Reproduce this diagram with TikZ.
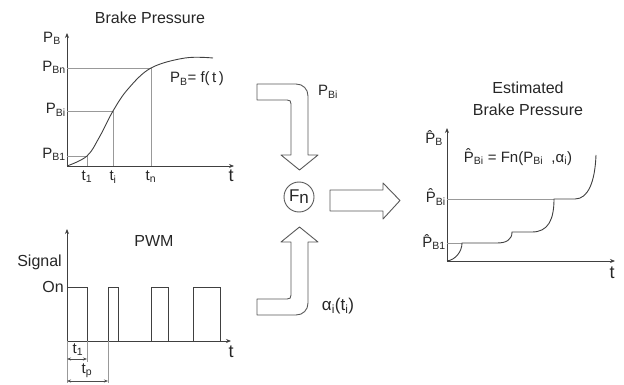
\documentclass[tikz,border=0pt]{standalone}
\usepackage{fontspec}
\setmainfont{Liberation Sans}
\usetikzlibrary{arrows.meta,calc,positioning}
\newcommand{\Psub}[1]{P\textsubscript{#1}}
\newcommand{\Phat}[1]{\^{P}\textsubscript{#1}}

\begin{document}
\begin{tikzpicture}[x=1pt, y=-1pt,
		axis/.style={draw=black!75, line width=0.8pt, -{Stealth[length=5pt,width=4pt]}},
		guide/.style={draw=black!40, line width=0.6pt},
		curve/.style={draw=black!75, line width=0.9pt},
		blockarrow/.style={draw=black!65, line width=0.9pt, fill=white, line join=round},
		dimarrow/.style={draw=black!70, line width=0.6pt, {Stealth[length=4pt,width=3pt]}-{Stealth[length=4pt,width=3pt]}},
		lbl/.style={font=\fontsize{15}{17}\selectfont, text=black!85, inner sep=0pt},
		ttl/.style={font=\fontsize{16}{22}\selectfont, text=black!85, inner sep=0pt, align=center}]
	\useasboundingbox (0,0) rectangle (624,385);

		% === Brake pressure graph ===
		\coordinate (o1) at (67,166);
		\coordinate (c1) at (87,156);
		\coordinate (ci) at (113,111);
		\coordinate (cn) at (151,68);
		\draw[axis] (o1) -- (234,166);
		\draw[axis] (o1) -- (67,33);
		\foreach \c in {c1, ci, cn} {
			\draw[guide] (o1 -| \c) -- (\c) -- (o1 |- \c);	% guide lines
		}
		\draw[curve] plot[smooth, tension=0.6] coordinates {(o1) (c1) (100,136) (ci) (128,89) (cn) (185,58) (213,58)};

		\node[ttl] (bptitle) at (150,18) {Brake Pressure};
		\node[lbl] (pb) at (52,38) {\Psub{B}};
		\node[lbl, anchor=east] (pbn) at (66,67) {\Psub{Bn}};
		\node[lbl, anchor=east] (pbi) at (66,110) {\Psub{Bi}};
		\node[lbl, anchor=east] (pb1) at (66,154) {\Psub{B1}};
		\node[lbl] (t1) at (87,177) {t\textsubscript{1}};
		\node[lbl] (ti) at (113,177) {t\textsubscript{i}};
		\node[lbl] (tn) at (151,177) {t\textsubscript{n}};
		\node[lbl, font=\fontsize{18}{20}\selectfont] (tax1) at (231,176) {t};
		\node[lbl] (feq) at (197,79) {\Psub{B}= f(\,t\,)};

		% === PWM graph ===
		\coordinate (o2) at (67,341);
		\draw[axis] (o2) -- (231,341);
		\draw[axis] (o2) -- (67,229);
		\foreach \a/\b in {67/87, 108/118, 151/168, 193/220} {
			\draw[curve] (\a,341) |- (\b,287) -- (\b,341);	% pulses
		}
		\node[ttl] (pwm) at (154,241) {PWM};
		\node[lbl, font=\fontsize{16}{18}\selectfont, anchor=east] (sig) at (62,262) {Signal};
		\node[lbl, font=\fontsize{16}{18}\selectfont, anchor=east] (on) at (64,287) {On};
		\node[lbl, font=\fontsize{18}{20}\selectfont] (tax2) at (231,352) {t};

		% === Dimension lines ===
		\coordinate (d1) at (87,341);
		\coordinate (dp) at (108,341);
		\draw[guide] (o2) -- ++(0,42);
		\draw[guide] (d1) -- ++(0,21);
		\draw[guide] (dp) -- ++(0,42);
		\draw[dimarrow] (67,359) -- (87,359);
		\draw[dimarrow] (67,381) -- (108,381);
		\node[lbl] (dt1) at (78,350) {t\textsubscript{1}};
		\node[lbl] (dtp) at (87,371) {t\textsubscript{p}};

		% === Fn block and arrows ===
		\node[circle, draw=black!65, line width=0.9pt, minimum size=30pt, inner sep=0pt,
			font=\fontsize{17}{19}\selectfont, text=black!85] (fn) at (299,197) {F\raisebox{-2pt}{n}};
		\draw[blockarrow] (257,84) -- (296,84) .. controls (303,84) and (308,89) .. (308,96)
			-- (308,155) -- (318,155) -- (299.5,170) -- (281,155) -- (291,155)
			-- (291,104) .. controls (291,101) and (290,100) .. (287,100) -- (257,100) -- cycle;
		\draw[blockarrow] (257,315) -- (296,315) .. controls (303,315) and (308,310) .. (308,303)
			-- (308,242) -- (318,242) -- (299.5,227) -- (281,242) -- (291,242)
			-- (291,295) .. controls (291,298) and (290,299) .. (287,299) -- (257,299) -- cycle;
		\draw[blockarrow] (330,190) -- (383,190) -- (383,183) -- (400,200.5)
			-- (383,219) -- (383,211) -- (330,211) -- cycle;
		\node[lbl] (inpb) at (328,92) {\Psub{Bi}};
		\node[lbl, font=\fontsize{17}{19}\selectfont] (inal) at (338,306) {α\textsubscript{i}(t\textsubscript{i})};

		% === Estimated brake pressure graph ===
		\coordinate (o3) at (447,261);
		\coordinate (h1) at (462,243);
		\coordinate (hi) at (554,199);
		\draw[axis] (o3) -- (615,261);
		\draw[axis] (o3) -- (447,128);
		\draw[guide] (o3 |- h1) -- (h1);
		\draw[guide] (o3 |- hi) -- (hi);
		\draw[curve] (o3) .. controls (455,260) and (462,252) .. (h1)
			-- (497,243) .. controls (506,243) and (512,240) .. (512,232)
			-- (532,232) .. controls (548,232) and (554,220) .. (hi)
			-- (575,199) .. controls (588,199) and (595,182) .. (596,155);

		\node[ttl] (esttitle) at (528,99) {Estimated\\Brake Pressure};
		\node[lbl] (phb) at (434,138) {\Phat{B}};
		\node[lbl, anchor=east] (phbi) at (446,197) {\Phat{Bi}};
		\node[lbl, anchor=east] (phb1) at (446,242) {\Phat{B1}};
		\node[lbl] (esteq) at (518,157) {\Phat{Bi} = Fn(\Psub{Bi}\ \ ,α\textsubscript{i})};
		\node[lbl, font=\fontsize{18}{20}\selectfont] (tax3) at (612,273) {t};
	\end{tikzpicture}
\end{document}
